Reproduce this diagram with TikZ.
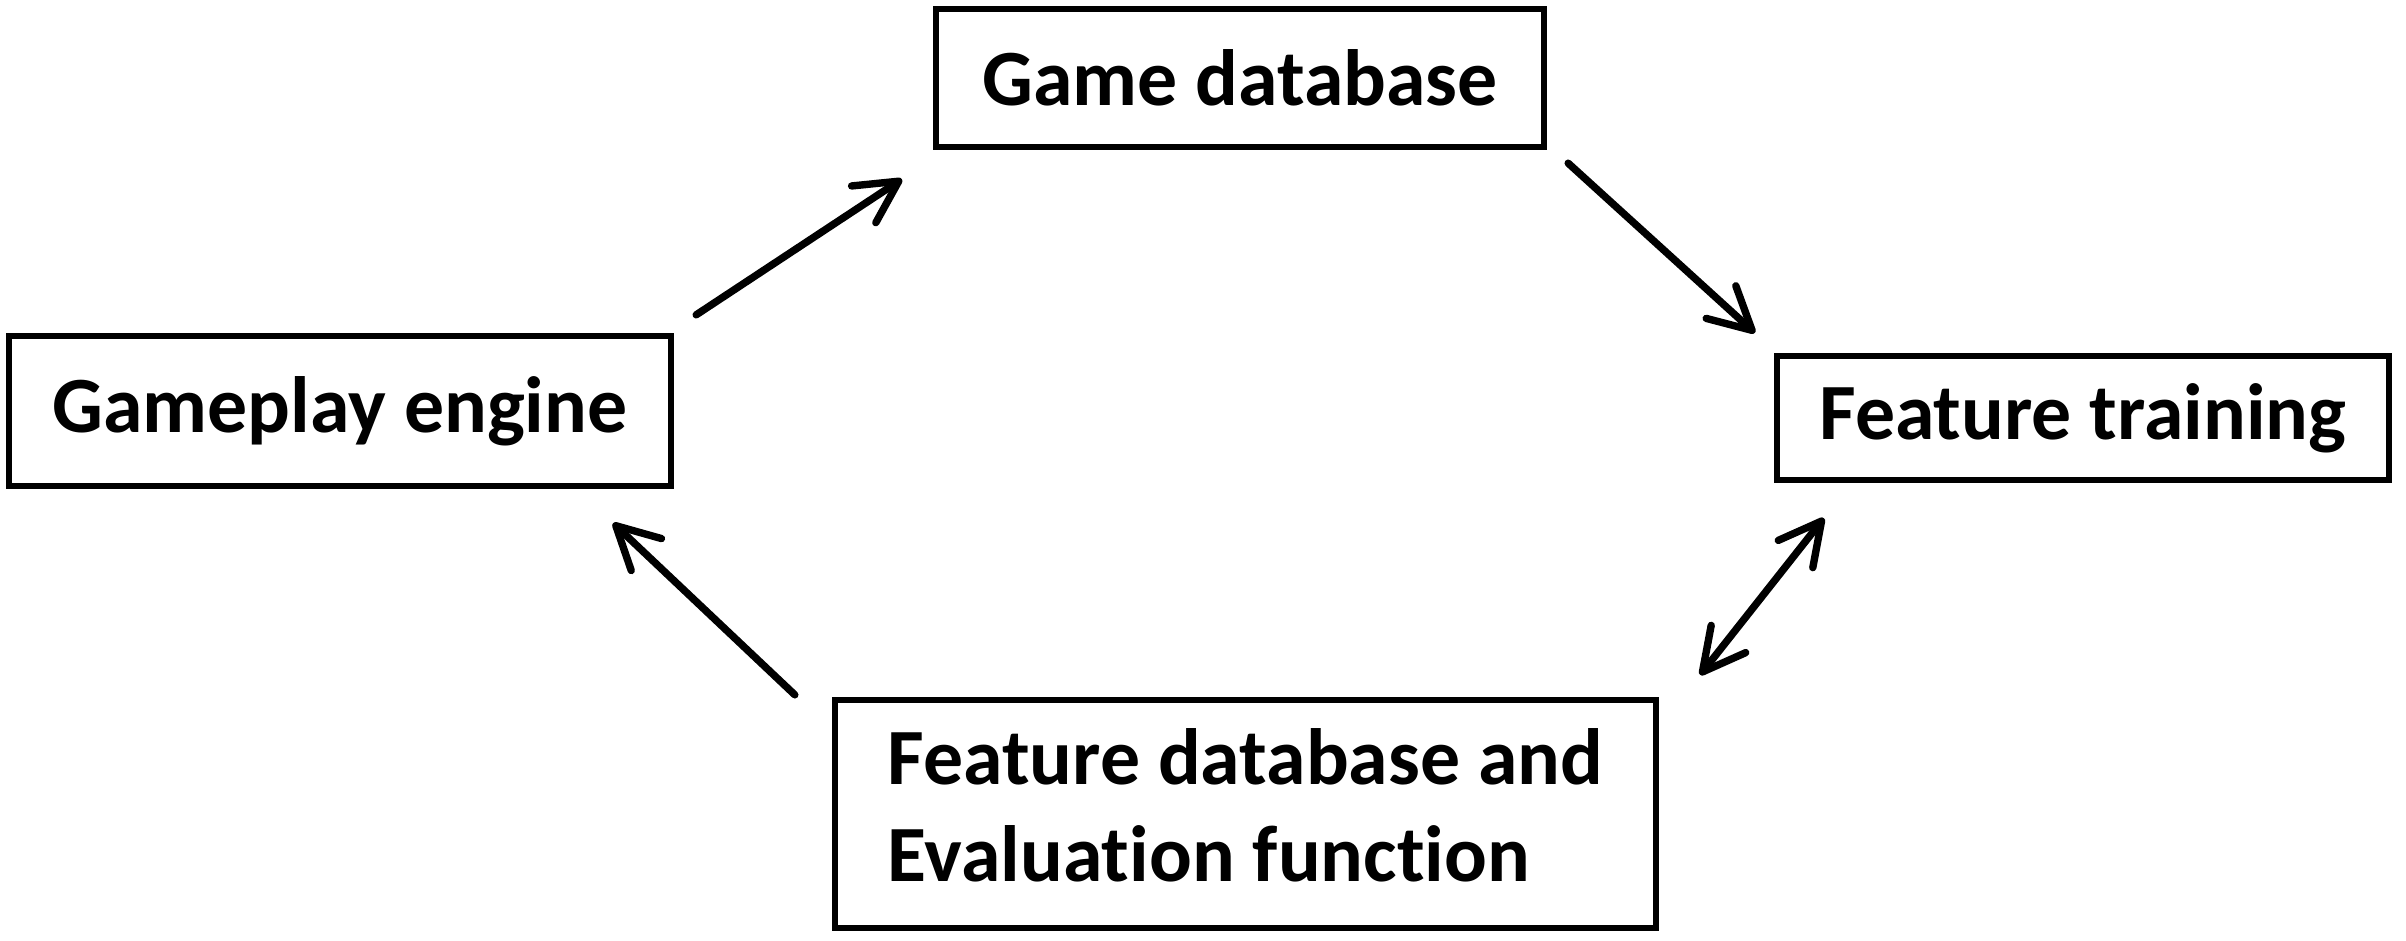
\documentclass[tikz,border=0pt]{standalone}
\usepackage{fontspec}
\setmainfont[Ligatures=NoCommon]{Carlito}
\usetikzlibrary{arrows.meta}

\begin{document}
\begin{tikzpicture}[
  box/.style={draw=black, line width=1.8pt, inner sep=0pt,
    font=\fontsize{22.7}{27.6}\selectfont\bfseries},
  arr/.style={line width=2.1pt, line cap=round,
    -{Straight Barb[length=4.2mm, width=4.4mm, line cap=round, line join=round]}},
  darr/.style={arr,
    {Straight Barb[length=4.2mm, width=4.4mm, line cap=round, line join=round]}-{Straight Barb[length=4.2mm, width=4.4mm, line cap=round, line join=round]}}
]
\useasboundingbox (0,0) rectangle (24.06,-9.40);
% boxes
\node[box, minimum width=6.08cm, minimum height=1.38cm] (gamedb) at (12.40,-0.78) {Game database};
\node[box, minimum width=6.62cm, minimum height=1.50cm] (engine) at (3.40,-4.11) {Gameplay engine};
\node[box, minimum width=6.12cm, minimum height=1.24cm] (training) at (20.83,-4.18) {Feature training};
\node[box, minimum width=8.21cm, minimum height=2.28cm]
  (featdb) at (12.455,-8.14) {\raisebox{0.15cm}{\begin{tabular}{@{}l@{}}Feature database and\\Evaluation function\end{tabular}}};
% connectors
\draw[arr] ([shift={(0.22,0.18)}]engine.north east) -- ([shift={(-0.31,-0.29)}]gamedb.south west);
\draw[arr] ([shift={(0.21,-0.13)}]gamedb.south east) -- ([shift={(-0.19,0.20)}]training.north west);
\draw[darr] ([shift={(0.41,0.22)}]featdb.north east) -- ([shift={(0.50,-0.35)}]training.south west);
\draw[arr] ([shift={(-0.37,0.02)}]featdb.north west) -- ([shift={(-0.61,-0.34)}]engine.south east);
\end{tikzpicture}
\end{document}
